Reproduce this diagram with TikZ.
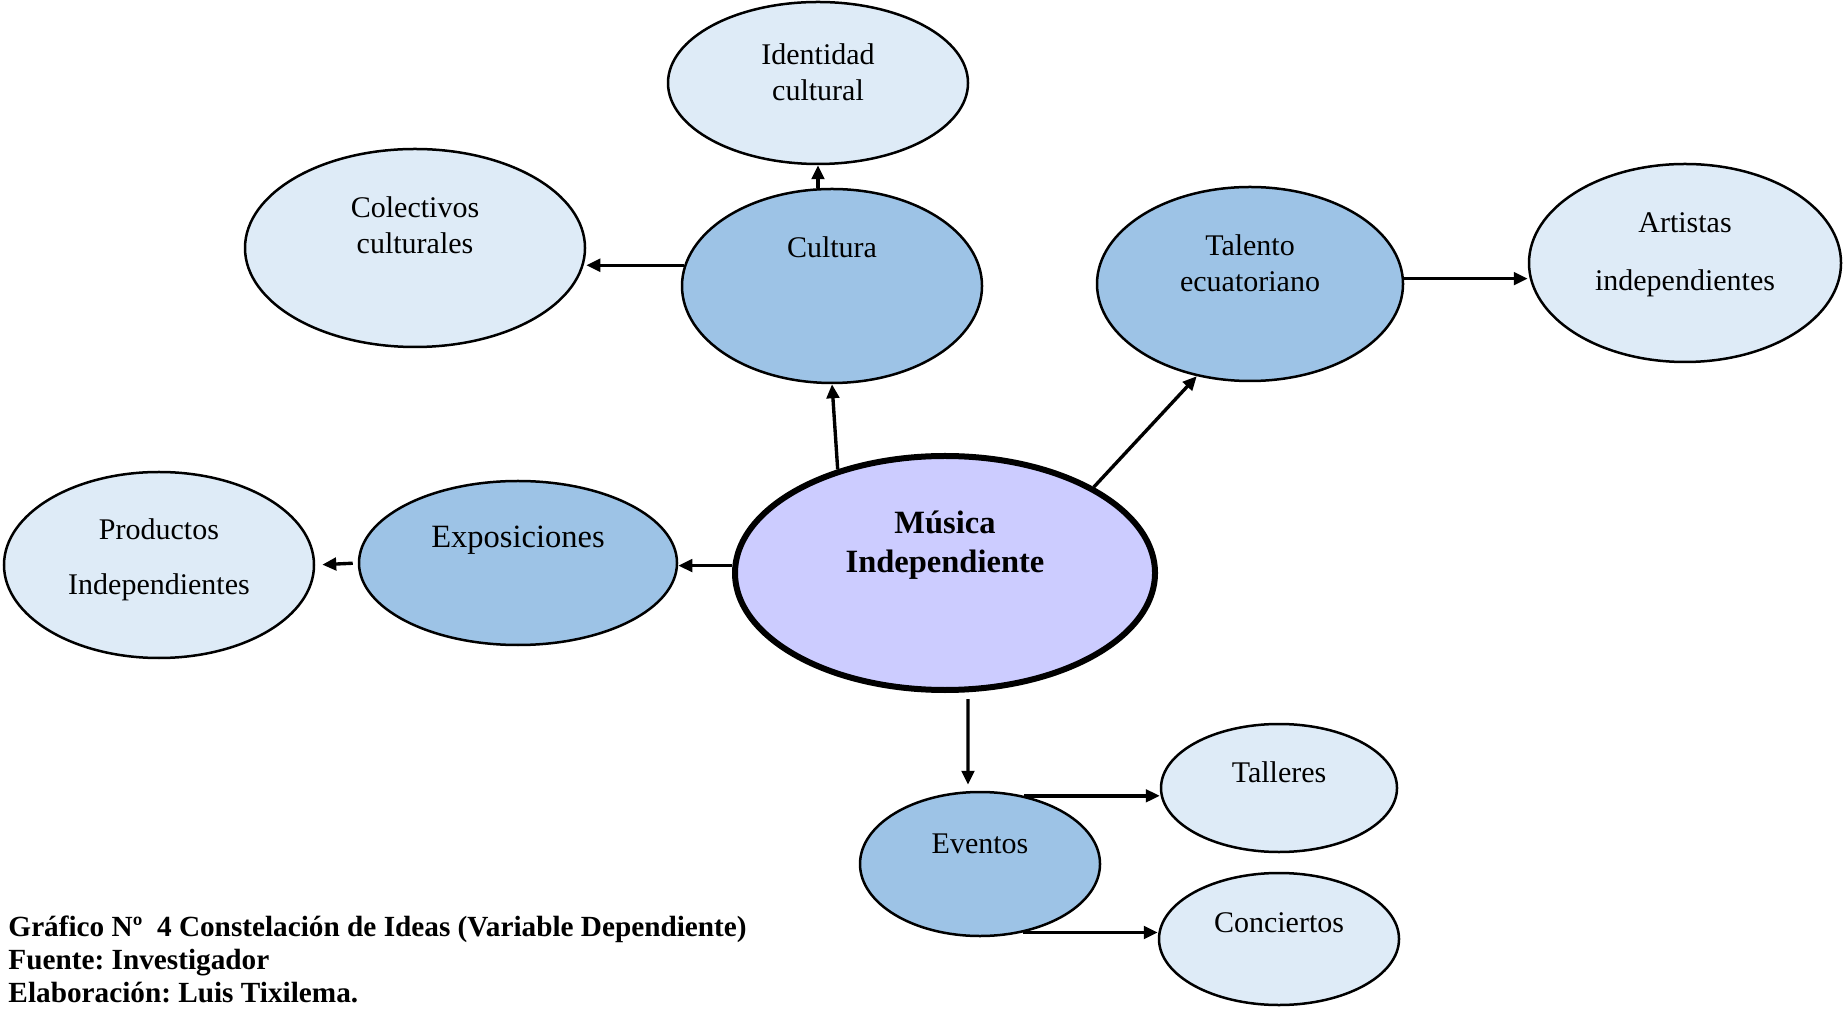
\documentclass[tikz,border=0pt]{standalone}
\usepackage{fontspec}
\setmainfont{Liberation Serif}
\usetikzlibrary{arrows.meta,
                shapes.geometric}
\frenchspacing

\definecolor{claro}{HTML}{DEEBF7}
\definecolor{medio}{HTML}{9DC3E6}
\definecolor{centro}{HTML}{CCCCFF}

\begin{document}
\begin{tikzpicture}[x=0.4pt, y=-0.4pt,
        elipse/.style={ellipse, draw, line width=1pt, inner sep=0pt},
        hoja/.style={elipse, fill=claro},
        rama/.style={elipse, fill=medio},
        txt/.style={align=center, inner sep=0pt, font=\fontsize{12}{14.5}\selectfont},
        flecha/.style={line width=1.35pt, -{Triangle[length=5.6pt,width=5pt]}}]
        \useasboundingbox (0,0) rectangle (1843,1010);
        % elipses
        \node[elipse, line width=2.4pt, fill=centro, minimum width=168pt, minimum height=93.6pt] (musica) at (945,573) {};
        \node[rama, minimum width=120pt, minimum height=77.6pt] (cultura) at (832,286) {};
        \node[rama, minimum width=122.4pt, minimum height=77.6pt] (talento) at (1250,284) {};
        \node[rama, minimum width=127.2pt, minimum height=65.6pt] (exposiciones) at (518,563) {};
        \node[rama, minimum width=96pt, minimum height=57.6pt] (eventos) at (980,864) {};
        \node[hoja, minimum width=120pt, minimum height=64.8pt] (identidad) at (818,83) {};
        \node[hoja, minimum width=136pt, minimum height=79.2pt] (colectivos) at (415,248) {};
        \node[hoja, minimum width=124.8pt, minimum height=79.2pt] (artistas) at (1685,263) {};
        \node[hoja, minimum width=124pt, minimum height=74.4pt] (productos) at (159,565) {};
        \node[hoja, minimum width=94.4pt, minimum height=51.2pt] (talleres) at (1279,788) {};
        \node[hoja, minimum width=96pt, minimum height=52.8pt] (conciertos) at (1279,939) {};
        % textos
        \node[txt, font=\fontsize{13}{15.6}\selectfont\bfseries] (t-musica) at (945,545) {Música\\Independiente};
        \node[txt] (t-cultura) at (832,247) {Cultura};
        \node[txt] (t-talento) at (1250,263) {Talento\\ecuatoriano};
        \node[txt, font=\fontsize{13}{15.6}\selectfont] (t-exposiciones) at (518,540) {Exposiciones};
        \node[txt] (t-eventos) at (980,844) {Eventos};
        \node[txt] (t-identidad) at (818,72) {Identidad\\cultural};
        \node[txt] (t-colectivos) at (415,225) {Colectivos\\culturales};
        \node[txt] (t-artistas) at (1685,255) {Artistas\\[8.7pt]independientes};
        \node[txt] (t-productos) at (159,560) {Productos\\[7.6pt]Independientes};
        \node[txt] (t-talleres) at (1279,772) {Talleres};
        \node[txt] (t-conciertos) at (1279,923) {Conciertos};
        % flechas
        \draw[flecha] (musica.136) -- (cultura.south);
        \draw[flecha] (musica.30) -- (talento.-120);
        \draw[flecha] (musica.178) -- (musica.178 -| exposiciones.east);
        \draw[flecha, shorten <=2.4pt, shorten >=2.4pt] ([xshift=9.2pt]musica.south) -- ([xshift=-4.8pt]eventos.north);
        \draw[flecha] (identidad.south |- cultura.north) -- (identidad.south);
        \draw[flecha] (cultura.172) -- (cultura.172 -| colectivos.east);
        \draw[flecha] (talento.2) -- (talento.2 -| artistas.west);
        \draw[flecha, shorten <=2pt, shorten >=2.8pt] (exposiciones.west) -- (productos.east);
        \draw[flecha] (eventos.57) -- (eventos.57 -| talleres.west);
        \draw[flecha] (eventos.-58) -- (eventos.-58 -| conciertos.west);
        % pie
        \node[anchor=north west, align=left, inner sep=0pt, font=\fontsize{11.7}{13.2}\selectfont\bfseries] (pie) at (8,915)
            {Gráfico Nº\ \ 4 Constelación de Ideas (Variable Dependiente)\\
             Fuente: Investigador\\
             Elaboración: Luis Tixilema.};
\end{tikzpicture}
\end{document}
